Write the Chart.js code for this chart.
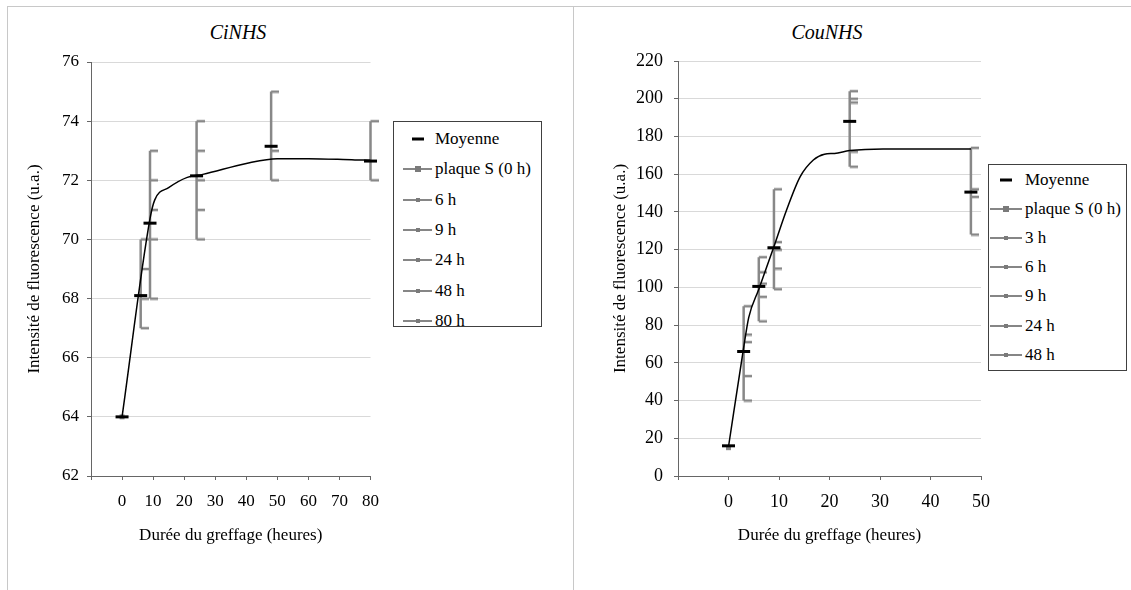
<!DOCTYPE html>
<html lang="fr">
<head>
<meta charset="UTF-8">
<title>CiNHS / CouNHS - intensité de fluorescence</title>
<script src="https://cdn.jsdelivr.net/npm/chart.js"></script>
<style>
    body {
        margin: 0;
        width: 1131px;
        height: 590px;
        overflow: hidden;
        background: #ffffff;
        font-family: 'Liberation Serif', serif;
        position: relative;
    }
    .panel {
        position: absolute;
        top: 6px;
        height: 620px;
        border-top: 1px solid #c8c8c8;
        border-left: 1px solid #c8c8c8;
    }
    #panelA { left: 7px; width: 566px; }
    #panelB { left: 573px; width: 600px; }
    canvas { position: absolute; top: 10px; }
    #ciChart { left: 10px; }
    #couChart { left: 585px; }
    .title {
        position: absolute;
        top: 20px;
        font-style: italic;
        font-size: 20px;
        line-height: 24px;
        transform: translateX(-50%);
        white-space: nowrap;
        color: #000;
    }
    .legend {
        position: absolute;
        box-sizing: border-box;
        border: 1px solid #404040;
        background: #ffffff;
        z-index: 2;
    }
    .legend .row {
        display: flex;
        align-items: center;
        font-size: 17px;
        color: #000;
        white-space: nowrap;
    }
    .sym { position: relative; height: 10px; margin-right: 3px; flex: none; }
    .sym .ln { position: absolute; left: 0; right: 0; top: 4px; height: 2px; background: #868686; }
    .sym .mk { position: absolute; left: 50%; top: 50%; background: #7a7a7a; transform: translate(-50%, -50%); }
    .sym .dash { position: absolute; left: 50%; top: 50%; width: 12px; height: 3px; background: #000; transform: translate(-50%, -50%); }
</style>
</head>
<body>

<div class="panel" id="panelA"></div>
<div class="panel" id="panelB"></div>

<div class="title" style="left:238px">CiNHS</div>
<div class="title" style="left:827px">CouNHS</div>

<canvas id="ciChart" width="380" height="550"></canvas>
<canvas id="couChart" width="420" height="550"></canvas>

<div class="legend" id="ciLegend" style="left:393px; top:121px; width:149px; height:206px; padding:2px 0 0 9px;"></div>
<div class="legend" id="couLegend" style="left:988px; top:164px; width:139px; height:207px; padding:0 0 0 1px;"></div>

<script>
    // ---- CiNHS ----
    var ciTimes = [0, 6, 9, 24, 48, 80];
    var ciMeans = [64.0, 68.1, 70.55, 72.15, 73.15, 72.65];
    var ciLabels = ['plaque S (0 h)', '6 h', '9 h', '24 h', '48 h', '80 h'];
    var ciPlaqueS = [64];
    var ci6h = [70, 69, 68, 67];
    var ci9h = [73, 72, 71, 70, 68];
    var ci24h = [74, 73, 72, 71, 70];
    var ci48h = [75, 73, 72];
    var ci80h = [74, 72];
    var ciFitX = [0, 9, 10.5, 15, 21, 26, 40, 50, 60, 75, 80];
    var ciFitY = [64, 70.7, 71.33, 71.75, 72.1, 72.2, 72.57, 72.73, 72.73, 72.69, 72.68];
    var ciXRange = [-10, 80, 10];
    var ciYRange = [62, 76, 2];

    // ---- CouNHS ----
    var couTimes = [0, 3, 6, 9, 24, 48];
    var couMeans = [16, 66, 100.5, 121, 188, 150.5];
    var couLabels = ['plaque S (0 h)', '3 h', '6 h', '9 h', '24 h', '48 h'];
    var couPlaqueS = [15];
    var cou3h = [90, 75, 71, 53, 40];
    var cou6h = [116, 108, 102, 95, 82];
    var cou9h = [152, 124, 120, 110, 99];
    var cou24h = [204, 200, 198, 172, 164];
    var cou48h = [174, 152, 148, 128];
    var couFitX = [0, 3, 4, 6, 9, 11.5, 14.2, 16.8, 19, 21, 24, 30.6, 48];
    var couFitY = [15.5, 68, 84, 99, 121.6, 141, 158.7, 167.5, 170.6, 171, 172.5, 173.4, 173.4];
    var couXRange = [-10, 50, 10];
    var couYRange = [0, 220, 20];

    var GREY = '#888888';
    var AXIS = '#666666';
    var GRID = '#d9d9d9';

    Chart.defaults.font.family = "'Liberation Serif', serif";
    Chart.defaults.color = '#000';

    // bracket cap: small tick drawn only on the right side of the point
    var bracket = document.createElement('canvas');
    bracket.width = 16;
    bracket.height = 4;
    var bctx = bracket.getContext('2d');
    bctx.fillStyle = GREY;
    bctx.fillRect(8, 0.8, 8, 2.5);

    function buildDatasets(times, means, labels, reps, fitX, fitY) {
        var ds = [];
        ds.push({
            label: 'Moyenne',
            data: times.map(function (t, i) { return { x: t, y: means[i] }; }),
            showLine: false,
            clip: false,
            pointStyle: 'line',
            pointRadius: 6.5,
            pointBorderWidth: 3,
            pointBorderColor: '#000',
            pointBackgroundColor: '#000'
        });
        ds.push({
            label: '',
            data: fitX.map(function (x, i) { return { x: x, y: fitY[i] }; }),
            showLine: true,
            borderColor: '#000',
            borderWidth: 1.5,
            pointRadius: 0,
            cubicInterpolationMode: 'monotone'
        });
        reps.forEach(function (vals, i) {
            ds.push({
                label: labels[i],
                data: vals.map(function (v) { return { x: times[i], y: v }; }),
                showLine: true,
                clip: false,
                borderColor: GREY,
                borderWidth: 2.5,
                pointStyle: i === 0 ? 'rect' : bracket,
                pointRadius: i === 0 ? 3.5 : 5,
                pointBorderWidth: 0,
                pointBackgroundColor: GREY,
                pointBorderColor: GREY
            });
        });
        return ds;
    }

    function makeChart(id, datasets, xr, yr, geo) {
        return new Chart(document.getElementById(id), {
            type: 'scatter',
            data: { datasets: datasets },
            options: {
                responsive: false,
                animation: false,
                events: [],
                layout: { padding: { top: geo.top, right: geo.right, left: 0, bottom: 0 } },
                plugins: { legend: { display: false }, tooltip: { enabled: false } },
                scales: {
                    x: {
                        type: 'linear',
                        min: xr[0], max: xr[1],
                        ticks: {
                            stepSize: xr[2], padding: 11, maxRotation: 0, autoSkip: false,
                            font: geo.tickFont, color: '#000',
                            callback: function (v) { return v < 0 ? '' : v; }
                        },
                        grid: { drawOnChartArea: false, tickColor: AXIS, tickLength: 4 },
                        border: { color: AXIS, width: 1 },
                        title: {
                            display: true, text: 'Durée du greffage (heures)',
                            font: { size: 17 }, color: '#000', padding: { top: 0, bottom: 14 }
                        },
                        afterFit: function (s) { s.height = 84; }
                    },
                    y: {
                        min: yr[0], max: yr[1],
                        ticks: { stepSize: yr[2], padding: geo.yTickPad, font: geo.tickFont, color: '#000' },
                        grid: { color: GRID, tickColor: AXIS, tickLength: 4 },
                        border: { color: AXIS, width: 1 },
                        title: {
                            display: true, text: 'Intensité de fluorescence (u.a.)',
                            font: { size: 17 }, color: '#000', padding: { top: geo.yTitlePad, bottom: 0 }
                        },
                        afterFit: function (s) { s.width = geo.yWidth; }
                    }
                }
            }
        });
    }

    function buildLegend(chart, boxId, rowH, symW) {
        var box = document.getElementById(boxId);
        chart.data.datasets.forEach(function (d) {
            if (!d.label) return;
            var row = document.createElement('div');
            row.className = 'row';
            row.style.height = rowH + 'px';
            var sym = document.createElement('span');
            sym.className = 'sym';
            sym.style.width = symW + 'px';
            if (d.label === 'Moyenne') {
                sym.innerHTML = '<span class="dash"></span>';
            } else {
                var s = d.pointStyle === 'rect' ? 6 : 4;
                sym.innerHTML = '<span class="ln"></span><span class="mk" style="width:' + s + 'px;height:' + s + 'px"></span>';
            }
            row.appendChild(sym);
            row.appendChild(document.createTextNode(d.label));
            box.appendChild(row);
        });
    }

    var ciChart = makeChart('ciChart',
        buildDatasets(ciTimes, ciMeans, ciLabels, [ciPlaqueS, ci6h, ci9h, ci24h, ci48h, ci80h], ciFitX, ciFitY),
        ciXRange, ciYRange,
        { top: 52, right: 19, yWidth: 81, yTitlePad: 14, yTickPad: 8, tickFont: { size: 17 } });

    var couChart = makeChart('couChart',
        buildDatasets(couTimes, couMeans, couLabels, [couPlaqueS, cou3h, cou6h, cou9h, cou24h, cou48h], couFitX, couFitY),
        couXRange, couYRange,
        { top: 51, right: 24, yWidth: 93, yTitlePad: 25, yTickPad: 11, tickFont: { size: 18 } });

    buildLegend(ciChart, 'ciLegend', 30.3, 29);
    buildLegend(couChart, 'couLegend', 29.2, 32);
</script>

</body>
</html>
